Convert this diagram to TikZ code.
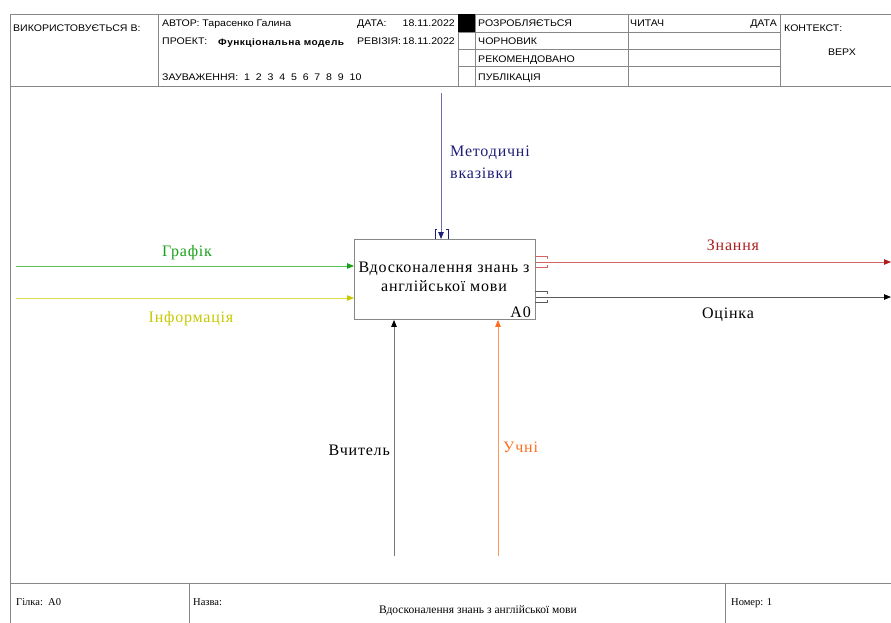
\documentclass[tikz,border=0pt]{standalone}
\usepackage{fontspec}
\setmainfont{Liberation Serif}
\newfontfamily\hdrfont[FakeStretch=1.1]{Liberation Sans}
\newfontfamily\lblfont[LetterSpace=5]{Liberation Serif}
\usetikzlibrary{arrows.meta}

\definecolor{framegray}{RGB}{135,135,135}
\definecolor{navyline}{RGB}{110,110,170}
\definecolor{navytext}{RGB}{30,30,120}
\definecolor{greenline}{RGB}{90,195,90}
\definecolor{greentext}{RGB}{25,160,25}
\definecolor{yellowline}{RGB}{220,220,70}
\definecolor{yellowtext}{RGB}{200,200,0}
\definecolor{redline}{RGB}{210,100,100}
\definecolor{redtext}{RGB}{175,30,30}
\definecolor{darkline}{RGB}{90,90,90}
\definecolor{grayline}{RGB}{120,120,120}
\definecolor{orangeline}{RGB}{255,150,90}
\definecolor{orangetext}{RGB}{255,110,30}

\tikzset{
  frame/.style={draw=framegray, line width=0.9pt},
  hdr/.style={inner sep=0pt, anchor=base west, font=\hdrfont\fontsize{9.6}{11}\selectfont},
  foot/.style={inner sep=0pt, anchor=base west, font=\fontsize{10.5}{12}\selectfont},
  lbl/.style={inner sep=0pt, font=\lblfont\fontsize{16}{19}\selectfont},
  funcbox/.style={draw=framegray, line width=0.9pt, fill=white, inner sep=0pt},
  tip/.style={-{Triangle[length=7pt,width=5.5pt,color=#1]}},
  flow/.style={line width=0.8pt},
}

\begin{document}
\begin{tikzpicture}[x=1pt,y=-1pt]
\useasboundingbox (0,0) rectangle (891,623);

% ---------- header frame ----------
\draw[frame] (10,623) -- (10,14) -- (891,14);
\draw[frame] (10,86) -- (891,86);
\draw[frame] (158,14) -- (158,86);
\draw[frame] (458,14) -- (458,86);
\draw[frame] (475,14) -- (475,86);
\draw[frame] (628,14) -- (628,86);
\draw[frame] (780,14) -- (780,86);
\draw[frame] (458,32) -- (780,32);
\draw[frame] (458,49) -- (780,49);
\draw[frame] (458,66) -- (780,66);
\fill[black] (458,14) rectangle (475,32);

\node[hdr] (usedat) at (13,32) {ВИКОРИСТОВУЄТЬСЯ В:};
\node[hdr] (author) at (162,27) {АВТОР: Тарасенко Галина};
\node[hdr] (datel) at (357,27) {ДАТА:};
\node[hdr, anchor=base east] (datev) at (455,27) {18.11.2022};
\node[hdr] (projl) at (162,45) {ПРОЕКТ:};
\node[hdr, font=\hdrfont\bfseries\addfontfeature{LetterSpace=5}\fontsize{9.2}{11}\selectfont] (projv) at (218,46) {Функціональна модель};
\node[hdr] (revl) at (357,45) {РЕВІЗІЯ:};
\node[hdr, anchor=base east] (revv) at (455,45) {18.11.2022};
\node[hdr] (notes) at (162,81) {ЗАУВАЖЕННЯ:\ \ 1\ \ 2\ \ 3\ \ 4\ \ 5\ \ 6\ \ 7\ \ 8\ \ 9\ \ 10};
\node[hdr] (st1) at (478,27) {РОЗРОБЛЯЄТЬСЯ};
\node[hdr] (st2) at (478,45) {ЧОРНОВИК};
\node[hdr] (st3) at (478,63) {РЕКОМЕНДОВАНО};
\node[hdr] (st4) at (478,81) {ПУБЛІКАЦІЯ};
\node[hdr] (reader) at (630,27) {ЧИТАЧ};
\node[hdr, anchor=base east] (rdate) at (777,27) {ДАТА};
\node[hdr] (ctx) at (784,32) {КОНТЕКСТ:};
\node[hdr, anchor=base] (top) at (842,56) {ВЕРХ};

% ---------- footer frame ----------
\draw[frame] (10,583) -- (891,583);
\draw[frame] (189,583) -- (189,623);
\draw[frame] (725,583) -- (725,623);
\node[foot] (branch) at (16,605) {Гілка:\ \ A0};
\node[foot] (titlel) at (193,605) {Назва:};
\node[foot, anchor=base, font=\fontsize{11.5}{13}\selectfont] (titlev) at (478,613) {Вдосконалення знань з англійської мови};
\node[foot] (number) at (731,605) {Номер: 1};

% ---------- function block ----------
\node[funcbox, anchor=north west, minimum width=181pt, minimum height=80pt] (A0) at (354,239) {};
\node[lbl, anchor=base] (A0l1) at (444,272) {Вдосконалення знань з};
\node[lbl, anchor=base] (A0l2) at (444,291) {англійської мови};
\node[lbl, anchor=base east] (A0id) at (531,317) {A0};

% ---------- control ----------
\coordinate (csrc) at (441,93);
\draw[flow, draw=navyline, tip=navytext] (csrc) -- (A0.north -| csrc);
\draw[navytext, line width=0.7pt] (437,229) -- (435,229) -- (435,239);
\draw[navytext, line width=0.7pt] (446,229) -- (448,229) -- (448,239);
\node[lbl, anchor=base west, text=navytext] (ctl1) at (450,157) {Методичні};
\node[lbl, anchor=base west, text=navytext] (ctl2) at (450,178) {вказівки};

% ---------- inputs ----------
\coordinate (gsrc) at (16,266);
\draw[flow, draw=greenline, tip=greentext] (gsrc) -- (A0.west |- gsrc);
\node[lbl, anchor=base, text=greentext] (glbl) at (187,256) {Графік};

\coordinate (isrc) at (16,298);
\draw[flow, draw=yellowline, tip=yellowtext] (isrc) -- (A0.west |- isrc);
\node[lbl, anchor=base, text=yellowtext] (ilbl) at (191,322) {Інформація};

% ---------- outputs ----------
\coordinate (kdst) at (891,262);
\draw[flow, draw=redline, tip=redtext] (A0.east |- kdst) -- (kdst);
\draw[redline, line width=0.7pt] (535,256.5) -- (547,256.5) -- (547,259);
\draw[redline, line width=0.7pt] (535,267.5) -- (547,267.5) -- (547,265);
\node[lbl, anchor=base, text=redtext] (klbl) at (733,250) {Знання};

\coordinate (odst) at (891,297);
\draw[flow, draw=darkline, tip=black] (A0.east |- odst) -- (odst);
\draw[darkline, line width=0.7pt] (535,291.5) -- (547,291.5) -- (547,294);
\draw[darkline, line width=0.7pt] (535,302.5) -- (547,302.5) -- (547,300);
\node[lbl, anchor=base, text=black] (olbl) at (728,318) {Оцінка};

% ---------- mechanisms ----------
\coordinate (tsrc) at (394,556);
\draw[flow, draw=grayline, tip=black] (tsrc) -- (A0.south -| tsrc);
\node[lbl, anchor=base east, text=black] (tlbl) at (390,455) {Вчитель};

\coordinate (ssrc) at (498,556);
\draw[flow, draw=orangeline, tip=orangetext] (ssrc) -- (A0.south -| ssrc);
\node[lbl, anchor=base west, text=orangetext] (slbl) at (503,452) {Учні};
\end{tikzpicture}
\end{document}
